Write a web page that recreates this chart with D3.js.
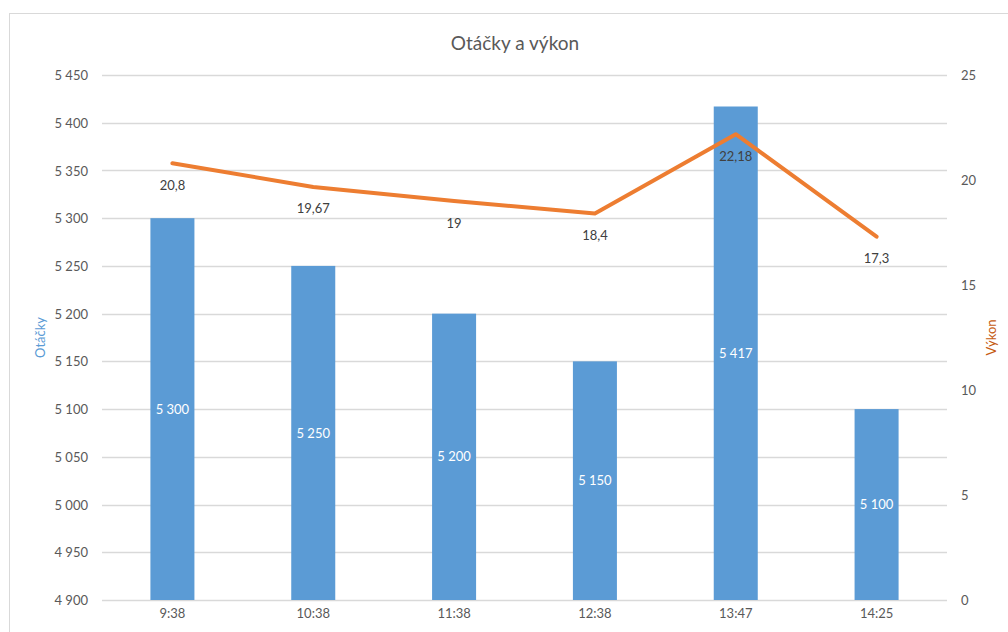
<!DOCTYPE html>
<meta charset="utf-8">
<title>Otáčky a výkon</title>
<style>
body { margin:0; background:#fff; }
svg text { font-family: Lato, "Open Sans", sans-serif; }
.tick text { fill:#595959; font-size:13px; }
</style>
<svg width="1008" height="632"></svg>
<script src="https://d3js.org/d3.v7.min.js"></script>
<script>
// data
var times = ["9:38","10:38","11:38","12:38","13:47","14:25"];
var otacky = [5300,5250,5200,5150,5417,5100];
var vykon = [20.8,19.67,19,18.4,22.18,17.3];
var leftTicks = d3.range(4900, 5451, 50);
var rightTicks = [0,5,10,15,20,25];

var svg = d3.select("svg");
var plotL = 102, plotR = 947, plotT = 75, plotB = 600;
var fmt = function(v){ return String(v).replace(/\B(?=(\d{3})+(?!\d))/g, " "); };
var fmtDec = function(v){ return String(v).replace(".", ","); };

// frame
svg.append("rect").attr("x",9.5).attr("y",13.5).attr("width",1010).attr("height",630)
  .attr("fill","none").attr("stroke","#d9d9d9");

var x = d3.scaleBand().domain(times).range([plotL,plotR]).paddingInner(0.6875).paddingOuter(0.34375);
var y = d3.scaleLinear().domain([4900,5450]).range([plotB,plotT]);
var y2 = d3.scaleLinear().domain([0,25]).range([plotB,plotT]);

// grid
svg.append("g").selectAll("line").data(leftTicks).join("line")
  .attr("x1",plotL).attr("x2",plotR)
  .attr("y1",function(d){return Math.round(y(d))+0.5;}).attr("y2",function(d){return Math.round(y(d))+0.5;})
  .attr("stroke","#d9d9d9").attr("stroke-width",1.3);

// axes
var ga = svg.append("g").attr("transform","translate(" + (plotL-14) + ",0)")
  .call(d3.axisLeft(y).tickValues(leftTicks).tickFormat(fmt).tickSize(0).tickPadding(0));
ga.select(".domain").remove();
ga.selectAll(".tick text").attr("dy","0.35em");

var gr = svg.append("g").attr("transform","translate(" + (plotR+14) + ",0)")
  .call(d3.axisRight(y2).tickValues(rightTicks).tickSize(0).tickPadding(0));
gr.select(".domain").remove();
gr.selectAll(".tick text").attr("dy","0.35em");

var gx = svg.append("g").attr("transform","translate(0," + plotB + ")")
  .call(d3.axisBottom(x).tickSize(0).tickPadding(13));
gx.select(".domain").remove();
gx.selectAll(".tick text").attr("dy","0.35em");

// bars
svg.append("g").selectAll("rect").data(otacky).join("rect")
  .attr("x",function(d,i){return x(times[i]);})
  .attr("width",x.bandwidth())
  .attr("y",function(d){return y(d);})
  .attr("height",function(d){return plotB - y(d);})
  .attr("fill","#5b9bd5");

svg.append("g").selectAll("text").data(otacky).join("text")
  .attr("x",function(d,i){return x(times[i]) + x.bandwidth()/2;})
  .attr("y",function(d){return (y(d)+plotB)/2;})
  .attr("dy","0.35em").attr("text-anchor","middle")
  .attr("fill","#fff").style("font-size","13px")
  .text(fmt);

// line
var line = d3.line()
  .x(function(d,i){return x(times[i]) + x.bandwidth()/2;})
  .y(function(d){return y2(d);});
svg.append("path").datum(vykon).attr("d",line)
  .attr("fill","none").attr("stroke","#ed7d31").attr("stroke-width",4)
  .attr("stroke-linejoin","round").attr("stroke-linecap","round");

svg.append("g").selectAll("text").data(vykon).join("text")
  .attr("x",function(d,i){return x(times[i]) + x.bandwidth()/2;})
  .attr("y",function(d){return y2(d) + 22;})
  .attr("dy","0.35em").attr("text-anchor","middle")
  .attr("fill","#404040").style("font-size","13px")
  .text(fmtDec);

// titles
svg.append("text").attr("x",515).attr("y",43).attr("dy","0.35em").attr("text-anchor","middle")
  .attr("fill","#595959").style("font-size","19px").text("Otáčky a výkon");

svg.append("text").attr("transform","translate(40," + (plotT+plotB)/2 + ") rotate(-90)")
  .attr("dy","0.35em").attr("text-anchor","middle")
  .attr("fill","#5b9bd5").style("font-size","13px").text("Otáčky");

svg.append("text").attr("transform","translate(991," + (plotT+plotB)/2 + ") rotate(-90)")
  .attr("dy","0.35em").attr("text-anchor","middle")
  .attr("fill","#c55a11").style("font-size","13px").text("Výkon");
</script>
